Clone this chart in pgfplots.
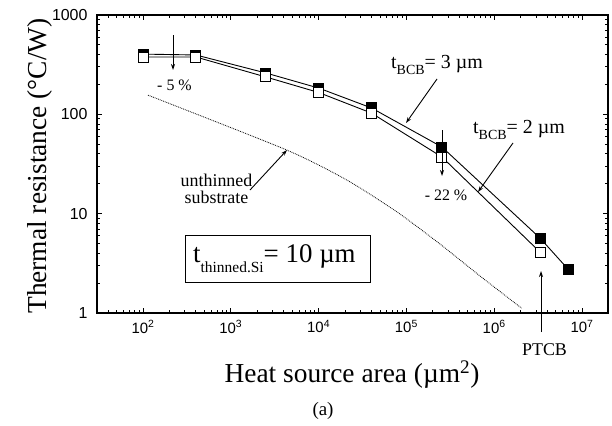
\documentclass[border=0pt]{standalone}
\usepackage{fontspec}
\setmainfont{Liberation Serif}
\newfontfamily\arial{Liberation Sans}
\usepackage{pgfplots}
\pgfplotsset{compat=1.18}
\usetikzlibrary{arrows.meta}
\newcommand{\fs}[1]{\fontsize{#1}{#1}\selectfont}
\begin{document}
\begin{tikzpicture}
\begin{axis}[
  xmode=log, ymode=log,
  scale only axis, width=511bp, height=298bp,
  xmin=29.9, xmax=1.98e7, ymin=1, ymax=1000,
  axis line style={line width=1.2bp},
  tick align=inside, xtick pos=both, ytick pos=both,
  major tick length=5bp, minor tick length=3bp,
  every tick/.style={black, line width=0.9bp},
  xticklabel={\pgfmathtruncatemacro\e{round(\tick/2.302585)}10\textsuperscript{\e}},
  yticklabel={\pgfmathtruncatemacro\e{round(\tick/2.302585)}\ifcase\e\relax 1\or 10\or 100\or 1000\fi},
  xticklabel style={font=\arial\fs{15}, yshift=-4bp},
  yticklabel style={font=\arial\fs{16}, xshift=-6bp},
  clip=false,
]
% unthinned substrate
\addplot[black, densely dotted, line width=0.8bp, smooth, tension=0.4] coordinates {
  (114,156) (4.37e3,43.6) (2.10e4,21.8) (7.82e4,10.4) (2.42e5,4.94) (6.89e5,2.36) (2.05e6,1.12)};
% t_BCB = 3 um
\addplot[black, line width=0.9bp, mark=square*, mark size=5bp,
  mark options={fill=black, line width=0.9bp}] coordinates {
  (100,404) (400,396) (2500,261) (1e4,184) (4e4,116) (2.54e5,46.9) (3.33e6,5.68) (7e6,2.74)};
% t_BCB = 2 um
\addplot[black, line width=0.9bp, mark=square*, mark size=5bp,
  mark options={fill=white, line width=0.9bp}] coordinates {
  (100,378) (400,378) (2500,238) (1e4,166) (4e4,103) (2.54e5,37.2) (3.33e6,4.10)};
\end{axis}
\coordinate (TL) at ([xshift=-97bp,yshift=313bp]current axis.south west);
\begin{scope}[shift={(TL)}, x=1bp, y=-1bp, >={Stealth[length=6bp,width=4bp]}]
  \draw[->, line width=0.9bp] (173,35) -- (173,70);
  \node[anchor=base, inner sep=0] at (174.5,90) {\fs{16}- 5 \%};
  \draw[->, line width=0.9bp] (442,130) -- (442,176);
  \node[anchor=base, inner sep=0] at (446,200) {\fs{16}- 22 \%};
  \draw[->, line width=0.9bp] (437,79) -- (406,123);
  \node[anchor=base west, inner sep=0] at (391,68) {\fs{20}t\raisebox{-6bp}{\fs{14}BCB}= 3 µm};
  \draw[->, line width=0.9bp] (513,143) -- (478,192);
  \node[anchor=base west, inner sep=0] at (473,133) {\fs{20}t\raisebox{-6bp}{\fs{14}BCB}= 2 µm};
  \draw[->, line width=0.9bp] (250,190) -- (287,150);
  \node[align=center, inner sep=0, font=\fontsize{18}{17}\selectfont] at (216.5,189) {unthinned\\substrate};
  \draw[line width=1bp] (185,235) rectangle (370,282);
  \node[anchor=base west, inner sep=0] at (193,262) {\fs{27}t\raisebox{-10bp}{\fs{15.5}thinned.Si}= 10 µm};
  \draw[->, line width=0.9bp] (541,332) -- (541,271);
  \node[anchor=base, inner sep=0] at (544.5,355) {\fs{18}PTCB};
  \node[anchor=base, inner sep=0] at (352,382) {\fs{27.5}Heat source area (µm\textsuperscript{2})};
  \node[anchor=base, inner sep=0, rotate=90] at (47,166) {\fs{27.5}Thermal resistance (°C/W)};
  \node[anchor=base, inner sep=0] at (323,415) {\fs{19}(a)};
  \pgfresetboundingbox
  \path (0,0) rectangle (612,425);
\end{scope}
\end{tikzpicture}
\end{document}
